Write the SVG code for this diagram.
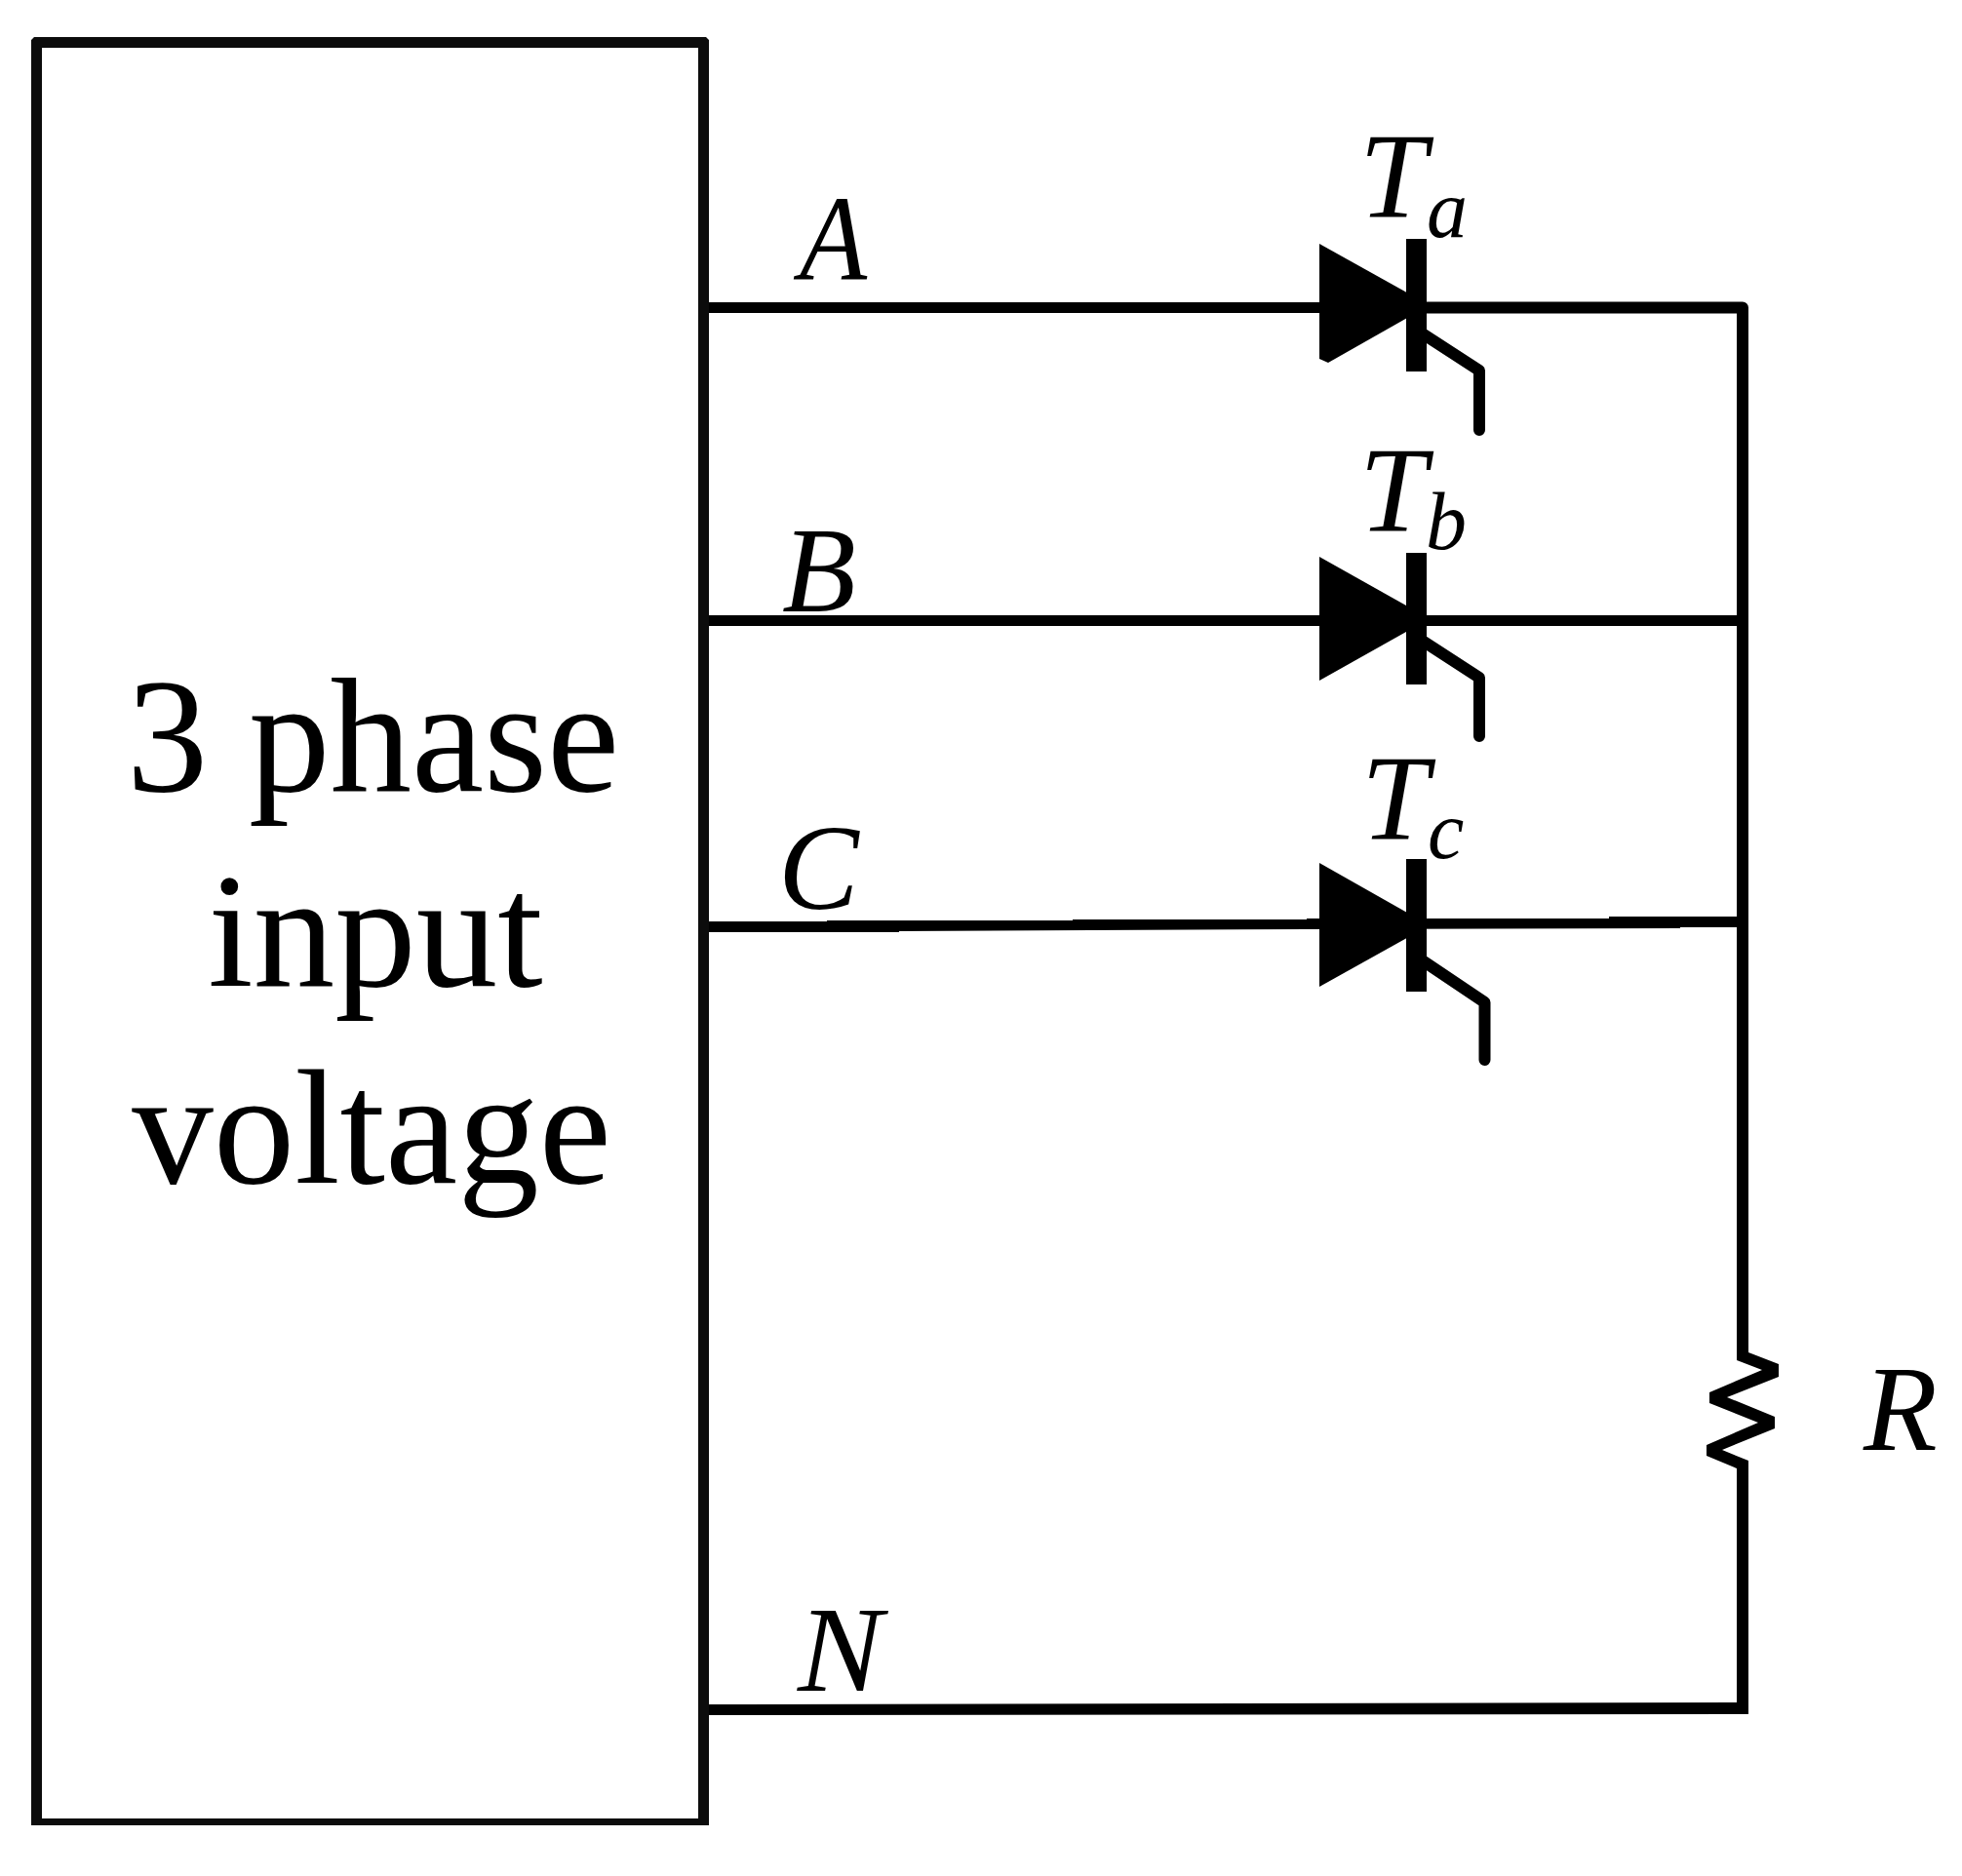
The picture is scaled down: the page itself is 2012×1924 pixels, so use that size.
<svg xmlns="http://www.w3.org/2000/svg" width="2012" height="1924" viewBox="0 0 2012 1924">
<style>
.w{fill:none;stroke:#000;stroke-width:11;stroke-linejoin:round}
.r{fill:none;stroke:#000;stroke-width:12;stroke-linejoin:round}
.g{fill:none;stroke:#000;stroke-width:12;stroke-linejoin:round;stroke-linecap:round}
.f{fill:#000}
text{font-family:"Liberation Serif","Times New Roman",serif;fill:#000}
.i{font-style:italic;font-size:124px}
.s{font-style:italic;font-size:84px}
.b{font-size:167px;text-anchor:middle}
</style>
<rect width="2012" height="1924" fill="#fff"/>
<g id="connectors">
<path class="w" d="M727 315.500H1787"/>
<path class="r" d="M1463 315.500H1787V1395"/>
<path class="w" d="M727 636.500H1787"/>
<polygon class="f" points="727,945 848,945 848,944 1100,944 1100,943 1340,943 1340,942 1650,942 1650,940 1787,940 1787,951 1723,951 1723,952 1340,953 922,955 922,956 727,956"/>
<path class="r" d="M1787 1500V1752"/>
<polygon class="f" points="727,1748 1793,1746 1793,1758 782,1759 727,1759"/>
</g>
<g id="source">
<path class="f" fill-rule="evenodd" d="M35 38H724L727 41V1872H32V41ZM43 49V1865H716V49Z" style="fill:#0c0c0c"/>
<text class="b" x="382.500" y="811">3 phase</text>
<text class="b" x="385" y="1011">input</text>
<text class="b" x="381" y="1213">voltage</text>
</g>
<g id="thyristor-a">
<polygon class="f" points="1353,250 1466,313 1362,372 1353,368"/>
<rect class="f" x="1442" y="245" width="21" height="136"/>
<path class="g" d="M1460 343L1517 380V441"/>
<text class="i" x="1394" y="223">T</text>
<text class="s" x="1463" y="243">a</text>
</g>
<g id="thyristor-b">
<polygon class="f" points="1353,571 1466,634.500 1353,698"/>
<rect class="f" x="1442" y="567" width="21" height="135"/>
<path class="g" d="M1460 658L1517 695V755"/>
<text class="i" x="1394" y="545">T</text>
<text class="s" x="1462" y="563">b</text>
</g>
<g id="thyristor-c">
<polygon class="f" points="1353,885 1466,949 1353,1012"/>
<rect class="f" x="1442" y="881" width="21" height="136"/>
<path class="g" d="M1460 986L1522.500 1028V1087"/>
<text class="i" x="1396" y="861">T</text>
<text class="s" x="1464" y="880">c</text>
</g>
<g id="resistor">
<polygon class="f" points="1781,1380 1793,1380 1793,1387 1824,1399 1824,1412 1771,1433 1820,1453 1820,1465 1766,1487 1793,1498 1793,1510 1781,1506 1750,1493 1750,1482 1803,1459 1753,1439 1753,1428 1807,1405 1781,1395"/>
<text class="i" x="1911" y="1487">R</text>
</g>
<g id="labels">
<text class="i" x="820" y="287" textLength="69" lengthAdjust="spacingAndGlyphs">A</text>
<text class="i" x="802" y="627">B</text>
<text class="i" x="798" y="932">C</text>
<text class="i" x="818" y="1734" textLength="87" lengthAdjust="spacingAndGlyphs">N</text>
</g>
</svg>
